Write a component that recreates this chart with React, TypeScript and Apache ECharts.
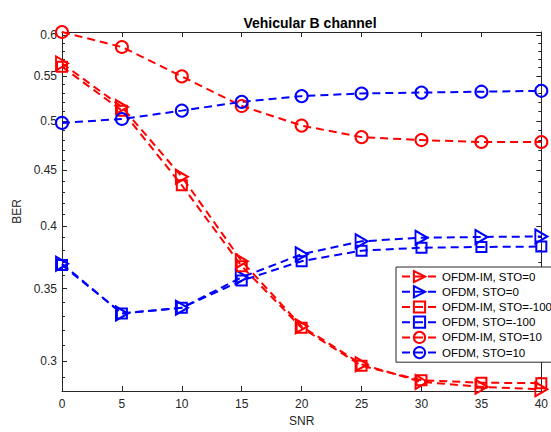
import React, { useEffect, useRef } from "react";
import * as echarts from "echarts";

const snr = [0, 5, 10, 15, 20, 25, 30, 35, 40];
const ofdmImSto0 = [0.565, 0.515, 0.444, 0.371, 0.323, 0.298, 0.287, 0.284, 0.2825];
const ofdmSto0 = [0.369, 0.332, 0.336, 0.3585, 0.3765, 0.387, 0.39, 0.3906, 0.391];
const ofdmImStoM100 = [0.561, 0.511, 0.436, 0.367, 0.322, 0.297, 0.288, 0.2865, 0.2862];
const ofdmStoM100 = [0.368, 0.332, 0.336, 0.356, 0.371, 0.3794, 0.3818, 0.3824, 0.3827];
const ofdmImSto10 = [0.604, 0.585, 0.5496, 0.516, 0.495, 0.483, 0.48, 0.478, 0.478];
const ofdmSto10 = [0.4978, 0.502, 0.511, 0.5206, 0.527, 0.53, 0.531, 0.532, 0.533];

const majorTicks = [0.3, 0.35, 0.4, 0.45, 0.5, 0.55, 0.6];
const minorTicks = [
  0.29, 0.31, 0.32, 0.33, 0.34, 0.36, 0.37, 0.38, 0.39, 0.41, 0.42, 0.43, 0.44,
  0.46, 0.47, 0.48, 0.49, 0.51, 0.52, 0.53, 0.54, 0.56, 0.57, 0.58, 0.59,
];
const yMin = 0.2815;
const yMax = 0.604;

const AX = "#262626";
const FONT = "'Liberation Sans', Arial, Helvetica, sans-serif";

const lg = (v: number) => Math.log10(v);

export default function App() {
  const ref = useRef<HTMLDivElement>(null);
  useEffect(() => {
    if (!ref.current) return;
    const chart = echarts.init(ref.current, null, { renderer: "svg" });

    const mk = (
      name: string,
      vals: number[],
      color: string,
      symbol: string,
      size: number | number[],
      rotate = 0
    ) => ({
      name,
      type: "line",
      xAxisIndex: 0,
      yAxisIndex: 0,
      data: snr.map((x, i) => [x, lg(vals[i])]),
      symbol,
      symbolSize: size,
      symbolRotate: rotate,
      showAllSymbol: true,
      clip: false,
      lineStyle: { color, width: 2, type: [8, 5] },
      itemStyle: { color: "rgba(0,0,0,0)", borderColor: color, borderWidth: 2 },
      emphasis: { disabled: true },
    });

    const yBase = {
      type: "value",
      min: lg(yMin),
      max: lg(yMax),
      splitLine: { show: false },
    };

    chart.setOption({
      animation: false,
      backgroundColor: "#fff",
      title: {
        text: "Vehicular B channel",
        left: 305,
        top: 11,
        textAlign: "center",
        textStyle: { fontFamily: FONT, fontSize: 14, fontWeight: "bold", color: "#000" },
      },
      grid: { left: 62, right: 3, top: 32, bottom: 37, containLabel: false },
      xAxis: [
        {
          type: "value",
          min: 0,
          max: 40,
          interval: 5,
          position: "bottom",
          name: "SNR",
          nameLocation: "middle",
          nameGap: 24,
          nameTextStyle: { fontFamily: FONT, fontSize: 12, color: AX },
          axisLine: { show: true, lineStyle: { color: AX, width: 1 } },
          axisTick: { show: true, inside: true, length: 5, lineStyle: { color: AX } },
          axisLabel: { fontFamily: FONT, fontSize: 12, color: AX, margin: 7 },
          splitLine: { show: false },
        },
        {
          type: "value",
          min: 0,
          max: 40,
          interval: 5,
          position: "top",
          axisLine: { show: true, lineStyle: { color: AX, width: 1 } },
          axisTick: { show: true, inside: true, length: 5, lineStyle: { color: AX } },
          axisLabel: { show: false },
          splitLine: { show: false },
        },
      ],
      yAxis: [
        {
          ...yBase,
          position: "left",
          name: "BER",
          nameLocation: "middle",
          nameGap: 38,
          nameTextStyle: { fontFamily: FONT, fontSize: 12, color: AX },
          axisLine: { show: true, lineStyle: { color: AX, width: 1 } },
          axisTick: {
            show: true,
            inside: true,
            length: 5,
            lineStyle: { color: AX },
            customValues: majorTicks.map(lg),
          },
          axisLabel: {
            fontFamily: FONT,
            fontSize: 12,
            color: AX,
            margin: 5,
            customValues: majorTicks.map(lg),
            formatter: (v: number) => String(Number(Math.pow(10, v).toFixed(2))),
          },
        },
        {
          ...yBase,
          position: "left",
          axisLine: { show: false },
          axisTick: {
            show: true,
            inside: true,
            length: 3,
            lineStyle: { color: AX },
            customValues: minorTicks.map(lg),
          },
          axisLabel: { show: false },
        },
        {
          ...yBase,
          position: "right",
          axisLine: { show: true, lineStyle: { color: AX, width: 1 } },
          axisTick: {
            show: true,
            inside: true,
            length: 5,
            lineStyle: { color: AX },
            customValues: majorTicks.map(lg),
          },
          axisLabel: { show: false },
        },
        {
          ...yBase,
          position: "right",
          axisLine: { show: false },
          axisTick: {
            show: true,
            inside: true,
            length: 3,
            lineStyle: { color: AX },
            customValues: minorTicks.map(lg),
          },
          axisLabel: { show: false },
        },
      ],
      legend: {
        orient: "vertical",
        left: 396,
        top: 267,
        itemWidth: 35,
        itemHeight: 14,
        itemGap: 2,
        padding: [3, 5, 3, 5],
        borderColor: AX,
        borderWidth: 1,
        backgroundColor: "#fff",
        selectedMode: false,
        textStyle: { fontFamily: FONT, fontSize: 11.5, color: "#000" },
        data: [
          "OFDM-IM, STO=0",
          "OFDM, STO=0",
          "OFDM-IM, STO=-100",
          "OFDM, STO=-100",
          "OFDM-IM, STO=10",
          "OFDM, STO=10",
        ],
      },
      series: [
        mk("OFDM-IM, STO=0", ofdmImSto0, "#ff0000", "triangle", [14, 12], -90),
        mk("OFDM, STO=0", ofdmSto0, "#0000ff", "triangle", [14, 12], -90),
        mk("OFDM-IM, STO=-100", ofdmImStoM100, "#ff0000", "rect", 10),
        mk("OFDM, STO=-100", ofdmStoM100, "#0000ff", "rect", 10),
        mk("OFDM-IM, STO=10", ofdmImSto10, "#ff0000", "circle", 12),
        mk("OFDM, STO=10", ofdmSto10, "#0000ff", "circle", 12),
      ],
    });

    return () => chart.dispose();
  }, []);

  return <div ref={ref} style={{ width: 551, height: 432, position: "absolute", left: 0, top: 0 }} />;
}
